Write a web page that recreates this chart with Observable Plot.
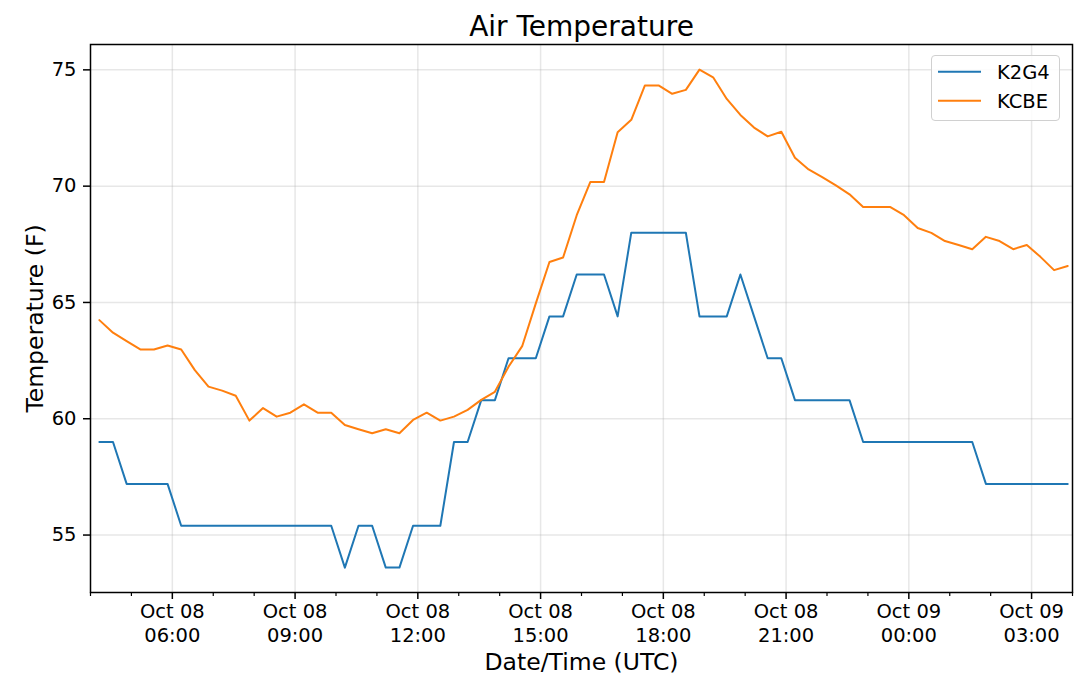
<!DOCTYPE html>
<html>
<head>
<meta charset="utf-8">
<script src="https://cdn.jsdelivr.net/npm/d3@7"></script>
<script src="https://cdn.jsdelivr.net/npm/@observablehq/plot@0.6"></script>
<style>
  html, body { margin: 0; padding: 0; background: white; }
  #wrap { position: relative; width: 1080px; height: 700px; font-family: "DejaVu Sans", sans-serif; }
  #legend { position: absolute; left: 931px; top: 55px; width: 129px; height: 66px; box-sizing: border-box;
            border: 1px solid #d0d0d0; border-radius: 4px; background: rgba(255,255,255,0.85); }
</style>
</head>
<body>
<div id="wrap"><div id="legend"></div></div>
<script>
// ---- data ----
const seriesNames = ["K2G4", "KCBE"];
const seriesColors = ["#1f77b4", "#ff7f0e"];
const firstObs = "2018-10-08T04:13:00Z"; // first observation (UTC)
const stepMinutes = 20;                   // observation interval

const k2g4 = [59,59,57.2,57.2,57.2,57.2,55.4,55.4,55.4,55.4,55.4,55.4,55.4,55.4,55.4,55.4,55.4,55.4,
  53.6,55.4,55.4,53.6,53.6,55.4,55.4,55.4,59,59,60.8,60.8,62.6,62.6,62.6,64.4,64.4,66.2,66.2,66.2,
  64.4,68,68,68,68,68,64.4,64.4,64.4,66.2,64.4,62.6,62.6,60.8,60.8,60.8,60.8,60.8,59,59,59,59,59,
  59,59,59,59,57.2,57.2,57.2,57.2,57.2,57.2,57.2];

const kcbe = [64.24,63.70,63.34,62.98,62.98,63.15,62.98,62.09,61.38,61.21,60.99,59.92,60.46,60.09,
  60.26,60.62,60.26,60.26,59.73,59.55,59.38,59.55,59.38,59.95,60.26,59.92,60.09,60.38,60.81,61.16,
  62.24,63.12,64.96,66.74,66.93,68.75,70.18,70.18,72.32,72.85,74.33,74.33,73.97,74.14,75.01,74.68,
  73.75,73.06,72.52,72.14,72.34,71.22,70.72,70.39,70.03,69.65,69.10,69.10,69.10,68.75,68.20,67.99,
  67.64,67.47,67.29,67.82,67.64,67.29,67.47,66.96,66.39,66.57];

const yTicks = [55, 60, 65, 70, 75];
const xStart = new Date("2018-10-08T04:00:00Z");
const xEnd = new Date("2018-10-09T04:00:00Z");
const yDomain = [52.53, 76.09];

// ---- build table ----
const t0 = new Date(firstObs).getTime();
const rows = [];
[k2g4, kcbe].forEach((vals, s) => {
  vals.forEach((v, i) => rows.push({station: seriesNames[s], time: new Date(t0 + i * stepMinutes * 60000), temp: v}));
});

const majorTicks = d3.utcHour.every(3).range(xStart, new Date(+xEnd + 1));
const minorTicks = d3.utcHour.range(xStart, new Date(+xEnd + 1)).filter(d => d.getUTCHours() % 3 !== 0);
const fmt = d3.utcFormat("%b %d\n%H:%M");

const chart = Plot.plot({
  width: 1080,
  height: 700,
  marginLeft: 90,
  marginRight: 8,
  marginTop: 44,
  marginBottom: 108,
  style: {fontFamily: "DejaVu Sans", fontSize: "19.5px", background: "white", color: "black"},
  x: {type: "utc", domain: [xStart, xEnd]},
  y: {domain: yDomain},
  color: {domain: seriesNames, range: seriesColors},
  marks: [
    Plot.gridX(majorTicks, {stroke: "#b0b0b0", strokeOpacity: 0.3, strokeWidth: 1.5}),
    Plot.gridY(yTicks, {stroke: "#b0b0b0", strokeOpacity: 0.3, strokeWidth: 1.5}),
    Plot.line(rows, {x: "time", y: "temp", z: "station", stroke: "station", strokeWidth: 2}),
    Plot.frame({stroke: "black", strokeWidth: 1.5}),
    Plot.axisY(yTicks, {tickSize: 7, tickPadding: 7, label: null, strokeWidth: 1.5}),
    Plot.axisX(majorTicks, {tickSize: 7, tickPadding: 1, tickFormat: fmt, lineHeight: 1.24, label: null, strokeWidth: 1.5}),
    Plot.axisX(minorTicks, {tickSize: 4, tickFormat: () => "", label: null, strokeWidth: 1.2}),
    Plot.text(["Air Temperature"], {text: d => d, frameAnchor: "top", textAnchor: "middle", lineAnchor: "middle", dy: -17, fontSize: 28}),
    Plot.text(["Temperature (F)"], {text: d => d, frameAnchor: "left", rotate: -90, textAnchor: "middle", lineAnchor: "middle", dx: -55.4, fontSize: 23.5}),
    Plot.text(["Date/Time (UTC)"], {text: d => d, frameAnchor: "bottom", textAnchor: "middle", lineAnchor: "middle", dy: 69.6, fontSize: 23.5})
  ]
});

const wrap = document.getElementById("wrap");
wrap.insertBefore(chart, wrap.firstChild);

// ---- legend (line swatches) ----
const legend = d3.select("#legend").append("svg").attr("width", 127).attr("height", 64)
  .style("font-family", "DejaVu Sans").style("font-size", "19.5px");
seriesNames.forEach((name, i) => {
  const y = 15.7 + i * 29;
  legend.append("line").attr("x1", 6).attr("x2", 49).attr("y1", y).attr("y2", y)
    .attr("stroke", seriesColors[i]).attr("stroke-width", 2);
  legend.append("text").attr("x", 65).attr("y", y).attr("dy", "0.35em").attr("fill", "black").text(name);
});
</script>
</body>
</html>
